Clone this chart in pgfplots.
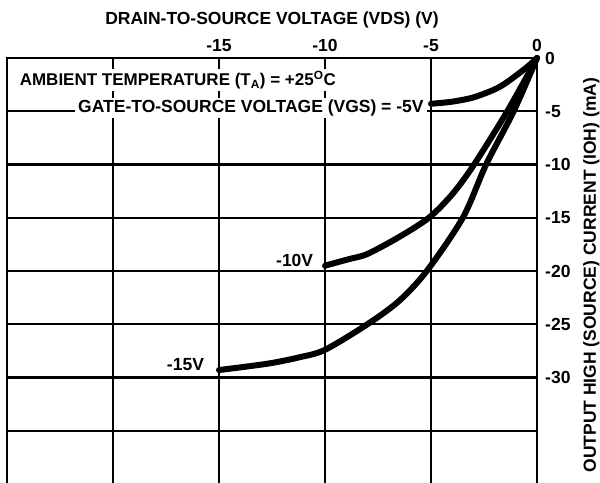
\documentclass[border=0pt]{standalone}
\usepackage{pgfplots}
\pgfplotsset{compat=1.18}
\usepackage{fontspec}
\setmainfont{Liberation Sans}
\newcommand{\lbl}{\bfseries\fontsize{17.5bp}{20bp}\selectfont}
\newcommand{\lblb}{\bfseries\fontsize{17bp}{20bp}\selectfont}
\pgfplotstableread{
x y
-5 -4.3
-4 -4.1
-3 -3.7
-2 -2.95
-1.4 -2.25
-0.5 -0.9
0 0
}\vgsfive
\pgfplotstableread{
x y
-10 -19.5
-8.9 -18.9
-8 -18.4
-6.5 -16.8
-5.1 -15
-4 -12.8
-3 -10.1
-1.4 -5
0 0
}\vgsten
\pgfplotstableread{
x y
-15 -29.3
-12.7 -28.7
-11.2 -28.1
-10 -27.4
-8 -25
-6.5 -22.8
-5.2 -20
-3.5 -15
-2.4 -10
-1.1 -5
0 0
}\vgsfifteen
\begin{document}
\begin{tikzpicture}
\useasboundingbox (0,0) rectangle (600bp,483bp);
\begin{axis}[
  at={(7bp,-1bp)}, anchor=south west,
  scale only axis, width=530bp, height=426bp,
  xmin=-25, xmax=0, ymin=-40, ymax=0,
  clip=false,
  axis line style={line width=2.3bp},
  grid=major, grid style={black, line width=2.3bp},
  major tick length=0pt,
  xtick={-20,-15,-10,-5,0}, xticklabels={,-15,-10,-5,0},
  ytick={0,-5,-10,-15,-20,-25,-30,-35}, yticklabels={0,-5,-10,-15,-20,-25,-30,},
  xticklabel pos=upper, yticklabel pos=upper,
  tick label style={font=\lbl, inner sep=0pt},
  xticklabel style={anchor=base, yshift=6.5bp},
  yticklabel style={anchor=west, xshift=8bp},
  xlabel={DRAIN-TO-SOURCE VOLTAGE (VDS) (V)},
  xlabel style={font=\lbl, at={(axis description cs:0.5,1.0775)}, anchor=base, inner sep=0pt},
  ylabel={OUTPUT HIGH (SOURCE) CURRENT (IOH) (mA)},
  ylabel style={font=\lbl, at={(axis description cs:1.1113,0.49)}, anchor=base, rotate=0, inner sep=0pt},
]
\addplot[black, line width=6bp, smooth, line cap=round] table {\vgsfive};
\addplot[black, line width=6bp, smooth, line cap=round] table {\vgsten};
\addplot[black, line width=6bp, smooth, line cap=round] table {\vgsfifteen};
\node[fill=white, inner sep=2bp, anchor=west, font=\lblb] at (axis cs:-24.5,-2.07) {AMBIENT TEMPERATURE (T\textsubscript{A}) = +25\textsuperscript{O}C};
\node[fill=white, inner xsep=3bp, inner ysep=1.5bp, anchor=east, font=\lbl] at (axis cs:-5.2,-4.7) {GATE-TO-SOURCE VOLTAGE (VGS) = -5V};
\node[anchor=east, font=\lbl, inner sep=0pt] at (axis cs:-10.55,-19.0) {-10V};
\node[anchor=east, font=\lbl, inner sep=0pt] at (axis cs:-15.7,-28.8) {-15V};
\end{axis}
\end{tikzpicture}
\end{document}
